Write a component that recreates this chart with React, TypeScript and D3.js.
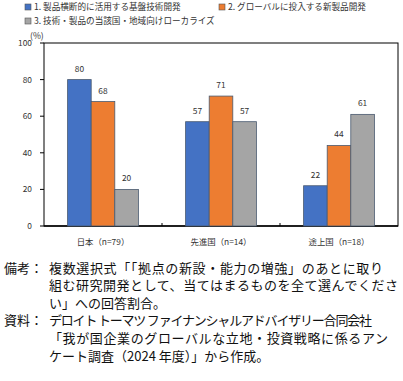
import React from "react";
import * as d3 from "d3";

const categories = ["日本（n=79）", "先進国（n=14）", "途上国（n=18）"];
const seriesNames = [
  "1. 製品横断的に活用する基盤技術開発",
  "2. グローバルに投入する新製品開発",
  "3. 技術・製品の当該国・地域向けローカライズ",
];
const series1 = [80, 57, 22];
const series2 = [68, 71, 44];
const series3 = [20, 57, 61];
const colors = ["#4472C4", "#ED7D31", "#A5A5A5"];
const yTicks = [0, 20, 40, 60, 80, 100];
const noteLabels = ["備考：", "", "", "資料：", "", ""];
const noteTexts = [
  "複数選択式「「拠点の新設・能力の増強」のあとに取り",
  "組む研究開発として、当てはまるものを全て選んでくださ",
  "い」への回答割合。",
  "デロイト トーマツ ファイナンシャルアドバイザリー合同会社",
  "「我が国企業のグローバルな立地・投資戦略に係るアン",
  "ケート調査（2024 年度）」から作成。",
];
const noteWidths = [334, 349, 0, 323, 339, 0];

export default function App() {
  const W = 403, H = 381;
  const left = 44, right = 398, top = 43, bottom = 226;
  const font = "'Noto Sans CJK JP', 'Noto Sans', sans-serif";
  const x = d3.scaleBand<string>().domain(categories).range([left, right]).paddingInner(0).paddingOuter(0);
  const y = d3.scaleLinear().domain([0, 100]).range([bottom, top]);
  const inner = d3.scaleBand<number>().domain([0, 1, 2]).range([0, x.bandwidth() * 0.6]);
  const groupOffset = x.bandwidth() * 0.2;
  const all = [series1, series2, series3];

  return (
    <svg width={W} height={H} style={{ position: "absolute", left: 0, top: 0, background: "#fff" }} fontFamily={font}>
      {/* legend */}
      {seriesNames.map((n, i) => {
        const lx = i === 1 ? 219 : 25;
        const ly = i === 2 ? 21 : 7;
        return (
          <g key={n}>
            <rect x={lx} y={ly - 3} width={6} height={6} fill={colors[i]} stroke="#555" strokeWidth={0.6} />
            <text x={lx + 9} y={ly} dy="0.35em" fontSize={8.6} fill="#333">{n}</text>
          </g>
        );
      })}
      <text x={30} y={39} fontSize={8.6} fill="#333">(%)</text>
      {/* frame */}
      <rect x={left} y={top} width={right - left} height={bottom - top} fill="none" stroke="#000" strokeWidth={1} />
      {/* y axis */}
      {yTicks.map((t) => (
        <g key={t}>
          <line x1={left - 4} x2={left} y1={y(t)} y2={y(t)} stroke="#000" />
          <text x={left - 12} y={y(t)} dy="0.35em" textAnchor="end" fontSize={8.4} fill="#333">{t}</text>
        </g>
      ))}
      {/* x ticks */}
      {categories.slice(1).map((c) => (
        <line key={c} x1={x(c)!} x2={x(c)!} y1={bottom} y2={bottom - 3} stroke="#000" />
      ))}
      <line x1={left} x2={right} y1={bottom} y2={bottom} stroke="#000" strokeWidth={1.5} />
      {/* bars */}
      {categories.map((c, ci) => (
        <g key={c}>
          {all.map((s, si) => {
            const bx = x(c)! + groupOffset + inner(si)!;
            return (
              <g key={si}>
                <rect x={bx} y={y(s[ci])} width={inner.bandwidth()} height={bottom - y(s[ci])} fill={colors[si]} stroke="#4a5a70" strokeWidth={0.8} />
                <text x={bx + inner.bandwidth() / 2} y={y(s[ci]) - 8} textAnchor="middle" fontSize={8.4} fill="#333">{s[ci]}</text>
              </g>
            );
          })}
          <text x={x(c)! + x.bandwidth() / 2} y={242} dy="0.35em" textAnchor="middle" fontSize={8.4} fill="#333">{c}</text>
        </g>
      ))}
      {/* notes */}
      {noteTexts.map((txt, i) => (
        <g key={i}>
          {noteLabels[i] && (
            <text x={4} y={268 + i * 17.6} dy="0.35em" fontSize={13} fill="#111">{noteLabels[i]}</text>
          )}
          <text x={49} y={268 + i * 17.6} dy="0.35em" fontSize={13} fill="#111"
            textLength={noteWidths[i] || undefined} lengthAdjust={noteWidths[i] ? "spacing" : undefined}>{txt}</text>
        </g>
      ))}
    </svg>
  );
}
